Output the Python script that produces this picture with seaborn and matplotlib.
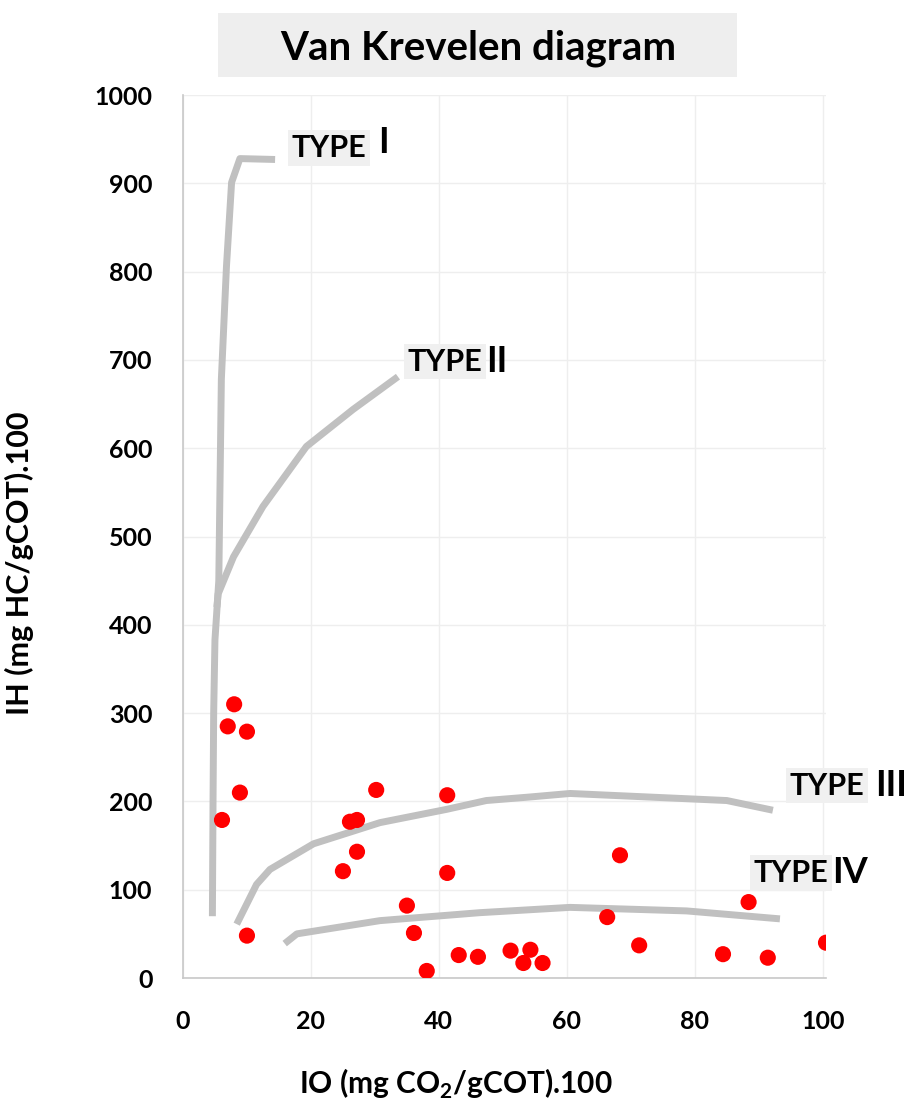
import matplotlib
matplotlib.use("Agg")
import matplotlib.pyplot as plt
from matplotlib.patches import Rectangle
import seaborn as sns
import pandas as pd

# ---- data ----
io_pts = [8.0, 7.0, 10.0, 8.9, 6.1, 10.0, 26.1, 27.2, 27.2, 25.0, 30.2, 41.3, 41.3,
          35.0, 36.1, 38.1, 43.1, 46.1, 51.2, 53.2, 54.3, 56.2, 66.3, 68.3, 71.3,
          84.4, 88.4, 91.4, 100.5]
ih_pts = [310, 285, 279, 210, 179, 48, 177, 179, 143, 121, 213, 207, 119,
          82, 51, 8, 26, 24, 31, 17, 32, 17, 69, 139, 37,
          27, 86, 23, 40]

type1_x = [4.6, 4.7, 4.8, 5.0, 5.6, 6.0, 6.8, 7.6, 8.9, 14.4]
type1_y = [70, 200, 300, 383, 450, 678, 806, 901, 928, 927]
type2_x = [5.3, 5.5, 7.9, 12.5, 19.3, 26.6, 33.6]
type2_y = [420, 435, 477, 534, 602, 644, 681]
type3_x = [8.4, 11.5, 13.6, 20.4, 30.8, 41.2, 47.4, 54.2, 60.5, 85.0, 92.2]
type3_y = [61, 106, 123, 152, 176, 191, 201, 205, 209, 201, 190]
type4_x = [15.9, 17.8, 30.8, 46.4, 60.5, 78.7, 93.3]
type4_y = [39, 50, 65, 74, 80, 76, 67]

x_ticks = [0, 20, 40, 60, 80, 100]
y_ticks = [0, 100, 200, 300, 400, 500, 600, 700, 800, 900, 1000]

title = "Van Krevelen diagram"
xlabel = "IO (mg CO$_\\mathbf{2}$/gCOT).100"
ylabel = "IH (mg HC/gCOT).100"
type_labels = ["I", "II", "III", "IV"]

# ---- style ----
sns.set_theme(style="white")
plt.rcParams["font.family"] = ["Lato", "DejaVu Sans"]
plt.rcParams["mathtext.fontset"] = "custom"
plt.rcParams["mathtext.bf"] = "Lato:bold"
plt.rcParams["mathtext.rm"] = "Lato"
plt.rcParams["text.color"] = "black"
plt.rcParams["axes.labelcolor"] = "black"
plt.rcParams["xtick.color"] = "black"
plt.rcParams["ytick.color"] = "black"

fig = plt.figure(figsize=(9.08, 11.01), dpi=100)
ax = fig.add_axes([0.2015, 0.1117, 0.9097 - 0.2015, 0.9137 - 0.1117])

curve_color = "#c0c0c0"
for cx, cy in [(type1_x, type1_y), (type2_x, type2_y), (type3_x, type3_y), (type4_x, type4_y)]:
    df = pd.DataFrame({"x": cx, "y": cy})
    sns.lineplot(data=df, x="x", y="y", sort=False, estimator=None, ax=ax,
                 color=curve_color, lw=5, solid_capstyle="butt", zorder=2)

pts = pd.DataFrame({"IO": io_pts, "IH": ih_pts})
sns.scatterplot(data=pts, x="IO", y="IH", ax=ax, color="#ff0000", s=135,
                edgecolor="none", zorder=3)

ax.set_xlim(0, 100.5)
ax.set_ylim(0, 1000)
ax.set_xticks(x_ticks)
ax.set_yticks(y_ticks)
ax.set_xticklabels([str(t) for t in x_ticks], fontsize=18, fontweight="bold")
ax.set_yticklabels([str(t) for t in y_ticks], fontsize=18, fontweight="bold")
ax.tick_params(axis="y", length=0, pad=22)
ax.tick_params(axis="x", length=0, pad=23)
ax.grid(True, color="#eeeeee", lw=1)
for s in ["top", "right"]:
    ax.spines[s].set_visible(False)
for s in ["left", "bottom"]:
    ax.spines[s].set_color("#c8c8c8")
    ax.spines[s].set_linewidth(1.2)

ax.set_xlabel(xlabel, fontsize=21.5, fontweight="bold")
ax.xaxis.set_label_coords(0.4246, -0.101)
ax.set_ylabel(ylabel, fontsize=22, fontweight="bold")
ax.yaxis.set_label_coords(-0.232, 0.470)

# title with grey box
fig.patches.append(Rectangle((0.240, 0.930), 0.8117 - 0.240, 0.9886 - 0.930,
                             transform=fig.transFigure, facecolor="#eeeeee",
                             edgecolor="none", zorder=0))
fig.text(0.5264, 0.9464, title, ha="center", va="baseline", fontsize=29,
         fontweight="bold", zorder=1)

box = dict(boxstyle="square,pad=0.12", facecolor="#f0f0f0", edgecolor="none")
label_pos = [(22.8, 940, 31.3, 946), (41.0, 698, 49.1, 698),
             (100.7, 218, 110.6, 218), (95.0, 119, 104.2, 120)]
for (tx, ty, nx, ny), num in zip(label_pos, type_labels):
    ax.text(tx, ty, "TYPE", fontsize=22, fontweight="bold", ha="center", va="center",
            bbox=box, zorder=4, clip_on=False)
    ax.text(nx, ny, num, fontsize=26, fontweight="bold", ha="center", va="center",
            zorder=5, clip_on=False)

fig.savefig("out.png", dpi=100, facecolor="white")
